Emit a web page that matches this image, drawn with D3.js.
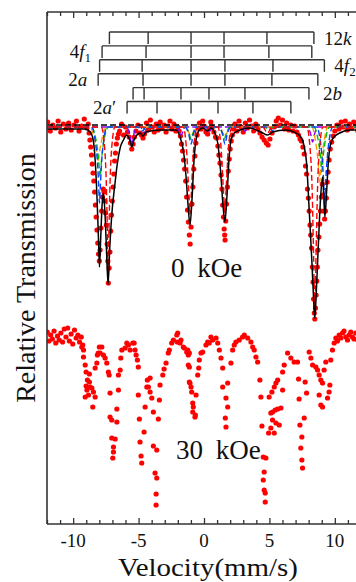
<!DOCTYPE html>
<html><head><meta charset="utf-8">
<script src="https://cdn.jsdelivr.net/npm/d3@7/dist/d3.min.js"></script>
<style>
body{margin:0;background:#fff}
svg{display:block}
</style></head>
<body><svg id="c" width="356" height="582"></svg>
<script>
// ---------------- DATA ----------------
const xTickLabels = [-10, -5, 0, 5, 10];
const stickLabels = ["12k", "4f1", "4f2", "2a", "2b", "2a′"];
// line positions (mm/s) of each sextet in the stick diagram
const stickRows = [
  [-7.23, -4.27, -0.99, 1.53, 4.81, 8.40],
  [-7.79, -4.43, -0.99, 1.53, 4.96, 8.24],
  [-7.98, -4.73, -0.99, 1.60, 5.27, 9.20],
  [-8.09, -4.66, -0.99, 1.60, 5.19, 8.70],
  [-5.42, -4.58, -1.76, 0.38, 3.13, 8.02],
  [-5.88, -3.59, -0.99, 1.07, 3.74, 6.64]
];
const fieldLabels = ["0 kOe", "30 kOe"];
const offset30 = -20.9; // vertical shift of the 30 kOe spectrum

// 0 kOe measured spectrum [velocity, relative transmission %]
const spectrum0 = [
[-11.95,100.5],[-11.75,99.6],[-11.55,100.2],[-11.35,99.9],[-11.15,100.6],[-10.95,99.5],[-10.75,100.3],[-10.55,99.8],[-10.35,100.4],[-10.15,99.7],[-9.95,100.2],[-9.75,100.6],[-9.55,99.6],[-9.35,100.1],[-9.15,100.8],[-8.95,99.9],[-8.85,100.3],
[-8.78,99.4],[-8.72,98.7],[-8.66,98.0],[-8.60,97.2],[-8.54,96.3],[-8.48,95.4],[-8.42,94.6],[-8.36,93.5],[-8.30,92.2],[-8.24,91.0],[-8.18,89.7],[-8.12,88.4],[-8.06,87.3],[-8.00,86.6],[-7.94,87.7],[-7.88,89.9],[-7.82,91.6],[-7.76,93.0],[-7.70,93.8],[-7.64,93.5],[-7.58,92.6],[-7.52,91.4],[-7.46,90.2],[-7.40,88.3],[-7.35,86.6],[-7.31,84.4],[-7.25,85.9],[-7.19,87.5],[-7.13,89.6],[-7.07,91.2],[-7.01,92.6],[-6.95,94.0],[-6.89,95.3],[-6.83,96.6],[-6.77,97.4],[-6.70,98.3],[-6.62,98.9],[-6.54,99.3],
[-6.45,99.6],[-6.30,100.3],[-6.15,99.2],[-6.00,100.0],[-5.85,99.5],[-5.72,99.0],[-5.62,98.4],[-5.52,97.8],[-5.42,98.3],[-5.32,99.0],[-5.20,99.6],[-5.05,100.2],[-4.90,99.4],[-4.78,99.2],[-4.66,98.9],[-4.55,99.3],[-4.40,100.4],[-4.25,99.8],[-4.10,100.7],[-3.95,100.0],[-3.80,99.5],[-3.65,100.3],[-3.50,99.7],[-3.35,100.5],[-3.20,99.9],[-3.05,100.2],[-2.90,99.5],[-2.75,100.1],[-2.60,100.6],[-2.45,99.8],[-2.30,100.3],[-2.15,99.6],[-2.00,100.0],
[-1.90,99.6],[-1.80,99.1],[-1.72,98.3],[-1.64,97.6],[-1.56,96.7],[-1.48,95.8],[-1.40,94.6],[-1.33,93.0],[-1.26,91.7],[-1.19,90.5],[-1.12,89.2],[-1.06,88.3],[-0.99,90.0],[-0.92,92.3],[-0.85,94.0],[-0.78,95.8],[-0.70,97.1],[-0.62,98.4],[-0.53,99.2],[-0.44,99.9],
[-0.35,100.4],[-0.22,99.8],[-0.10,100.6],[0.02,100.1],[0.15,99.5],[0.28,99.3],[0.40,99.8],[0.52,100.5],[0.64,100.0],[0.76,99.5],[0.88,99.0],
[0.98,98.9],[1.06,98.1],[1.14,97.2],[1.22,96.4],[1.30,95.2],[1.37,93.8],[1.43,92.2],[1.49,91.0],[1.54,89.8],[1.58,89.2],[1.61,88.7],[1.66,90.6],[1.72,92.3],[1.79,94.0],[1.86,95.6],[1.93,96.8],[2.00,97.8],[2.08,98.6],[2.16,99.2],[2.26,99.8],
[2.36,100.3],[2.52,99.6],[2.68,100.6],[2.84,100.0],[3.00,99.5],[3.16,100.4],[3.32,99.9],[3.48,100.7],[3.64,100.1],[3.80,99.6],[3.96,100.3],[4.12,99.8],[4.28,99.4],[4.44,99.0],[4.60,98.7],[4.76,98.4],[4.90,98.2],[5.04,98.8],[5.20,99.4],[5.36,100.0],[5.52,100.6],[5.68,100.9],[5.84,100.2],[6.00,100.7],[6.16,99.8],[6.32,100.4],[6.48,99.7],[6.64,100.2],[6.80,99.6],[6.96,100.1],[7.10,99.5],[7.22,99.2],[7.34,98.8],
[7.45,98.6],[7.56,98.0],[7.66,97.3],[7.76,96.1],[7.84,95.3],[7.91,93.8],[7.98,92.9],[8.04,91.6],[8.10,90.2],[8.16,89.2],[8.22,87.9],[8.28,86.0],[8.33,84.5],[8.38,82.8],[8.43,81.4],[8.47,80.8],[8.52,81.9],[8.57,83.2],[8.62,84.6],[8.66,86.0],[8.71,87.7],[8.78,89.0],[8.84,90.3],[8.90,91.6],[8.97,93.0],[9.04,94.3],[9.10,93.2],[9.16,91.6],[9.22,90.8],[9.28,91.6],[9.35,92.9],[9.42,94.5],[9.49,95.5],[9.56,96.7],[9.65,97.8],[9.76,98.5],[9.88,99.1],
[10.00,99.6],[10.16,100.2],[10.32,99.8],[10.48,100.5],[10.64,100.0],[10.80,100.6],[10.96,99.7],[11.12,100.3],[11.28,99.9],[11.44,100.5],[11.60,100.1],[11.76,99.6],[11.92,100.2]
];

// 0 kOe total fit (solid black)
const fit0 = [
[-12,99.8],[-9.08,99.8],[-8.70,99.5],[-8.47,98.7],[-8.32,96.7],[-8.17,92.7],[-8.05,88.2],[-7.99,86.0],[-7.90,88.7],[-7.79,92.2],[-7.69,93.4],[-7.56,91.2],[-7.44,87.2],[-7.33,84.3],[-7.21,87.7],[-7.05,91.2],[-6.79,94.5],[-6.64,96.2],[-6.41,97.9],[-6.16,98.7],[-5.90,99.2],[-5.65,98.6],[-5.52,98.0],[-5.38,98.6],[-5.13,99.2],[-4.89,99.4],[-4.66,99.1],[-4.43,99.5],[-3.36,99.7],[-2.14,99.7],[-1.76,98.7],[-1.53,97.2],[-1.37,95.0],[-1.22,92.2],[-1.07,90.2],[-0.92,92.7],[-0.76,96.7],[-0.61,98.7],[-0.36,99.7],[-0.10,99.9],[0.28,99.6],[0.53,99.9],[0.79,99.5],[1.05,98.4],[1.26,95.7],[1.45,92.2],[1.60,90.5],[1.76,93.2],[1.91,96.7],[2.06,98.7],[2.31,99.4],[2.75,99.7],[3.51,99.9],[4.48,99.4],[4.86,99.2],[5.24,99.5],[6.26,99.7],[6.87,99.5],[7.40,99.0],[7.66,98.0],[7.84,96.4],[8.04,91.7],[8.24,86.7],[8.37,83.0],[8.47,80.9],[8.59,83.7],[8.73,87.9],[8.91,92.9],[9.06,95.0],[9.15,93.2],[9.24,91.0],[9.37,93.5],[9.49,96.2],[9.62,97.9],[9.87,98.9],[10.38,99.4],[11.15,99.7],[12,99.7]
];

// 0 kOe sub-spectra (dashed)
const comp12k = [[-12,100],[-7.85,100],[-7.6,98.0],[-7.45,93.5],[-7.38,89],[-7.33,84.6],[-7.27,89],[-7.2,93.5],[-7.05,98.0],[-6.8,100],[-4.6,100],[-4.27,99.5],[-3.95,100],[-1.6,100],[-1.35,98.0],[-1.2,94.5],[-1.12,92.5],[-1.07,91.3],[-1.0,92.5],[-0.93,94.5],[-0.78,98.0],[-0.5,100],[1.05,100],[1.3,98.0],[1.45,94.5],[1.53,92.5],[1.58,91.3],[1.64,92.5],[1.72,94.5],[1.87,98.0],[2.15,100],[4.5,100],[4.85,99.4],[5.2,100],[7.85,100],[8.1,98.0],[8.27,93.5],[8.38,87],[8.47,81.3],[8.56,87],[8.67,93.5],[8.84,98.0],[9.1,100],[12,100]];
const comp4f2 = [[-12,100],[-8.6,100],[-8.3,98.5],[-8.12,96],[-8.04,93.8],[-7.99,92.4],[-7.93,93.8],[-7.85,96],[-7.68,98.5],[-7.4,100],[-5.05,100],[-4.73,99.6],[-4.4,100],[-1.45,100],[-1.15,99.2],[-0.99,98.3],[-0.83,99.2],[-0.55,100],[1.15,100],[1.44,99.2],[1.60,98.3],[1.76,99.2],[2.05,100],[4.95,100],[5.27,99.6],[5.6,100],[8.6,100],[8.9,98.5],[9.08,96],[9.17,93.8],[9.22,92.0],[9.28,93.8],[9.37,96],[9.55,98.5],[9.85,100],[12,100]];
const comp4f1 = [[-12,100],[-8.6,100],[-8.3,99.0],[-8.1,97.3],[-8.0,95.8],[-7.95,95.0],[-7.89,95.8],[-7.79,97.3],[-7.6,99.0],[-7.3,100],[-4.75,100],[-4.43,99.7],[-4.1,100],[-1.45,100],[-1.15,99.4],[-0.99,98.8],[-0.83,99.4],[-0.55,100],[1.1,100],[1.39,99.4],[1.55,98.8],[1.71,99.4],[2.0,100],[4.63,100],[4.96,99.7],[5.3,100],[8.4,100],[8.68,99.0],[8.88,97.3],[8.96,96.2],[9.0,95.5],[9.05,96.2],[9.13,97.3],[9.32,99.0],[9.6,100],[12,100]];
const comp2a = [[-12,100],[-8.7,100],[-8.42,99.0],[-8.22,97.8],[-8.13,97.0],[-8.09,96.5],[-8.04,97.0],[-7.95,97.8],[-7.76,99.0],[-7.45,100],[-1.4,100],[-0.99,99.1],[-0.6,100],[1.2,100],[1.6,99.1],[2.0,100],[8.25,100],[8.52,98.6],[8.7,96.8],[8.8,95.3],[8.85,94.5],[8.9,95.3],[9.0,96.8],[9.18,98.6],[9.45,100],[12,100]];
const comp2b = [[-12,100],[-5.95,100],[-5.7,99.4],[-5.52,98.2],[-5.34,99.4],[-5.05,100],[-4.85,100],[-4.58,99.4],[-4.3,100],[-2.1,100],[-1.76,99.2],[-1.42,100],[0.05,100],[0.38,99.6],[0.7,100],[2.8,100],[3.13,99.6],[3.45,100],[7.9,100],[8.15,99.3],[8.3,98.5],[8.45,99.3],[8.7,100],[12,100]];
const compBase = [[-12,100.2],[12,100.2]];

// 30 kOe measured spectrum [velocity, relative transmission %]
const spectrum30 = [
[-11.98,100.4],[-11.85,99.5],[-11.72,100.1],[-11.59,99.7],[-11.46,100.5],[-11.33,99.3],[-11.20,100.0],[-11.07,99.6],[-10.94,100.3],[-10.81,99.4],[-10.68,100.7],[-10.55,99.9],[-10.42,100.8],[-10.29,99.5],[-10.16,100.2],[-10.03,99.2],[-9.90,100.6],[-9.77,99.8],[-9.64,100.1],[-9.51,99.4],[-9.38,99.9],[-9.27,99.1],
[-9.34,98.9],[-9.21,98.6],[-9.21,97.9],[-9.08,97.1],[-9.01,96.4],[-9.01,95.0],[-8.95,94.6],[-9.08,93.9],[-8.91,95.6],[-8.83,94.1],[-8.76,96.2],[-8.76,95.4],[-8.70,94.9],[-8.57,94.8],[-8.50,92.9],[-8.45,94.4],[-8.32,93.9],[-8.32,96.8],[-8.19,97.3],[-8.15,98.1],[-8.08,98.3],[-8.00,98.9],[-7.94,98.3],[-7.81,98.9],[-7.69,98.1],[-7.56,97.8],[-7.43,97.3],[-7.31,96.4],[-7.25,96.1],[-7.18,94.3],[-7.18,91.9],[-7.05,91.6],[-7.05,89.8],[-6.79,89.7],[-6.92,88.9],[-6.92,88.4],[-6.97,87.8],[-6.66,91.4],[-6.66,92.7],[-6.54,94.6],[-6.54,96.1],[-6.41,96.6],[-6.36,97.8],[-6.28,98.6],[-6.03,98.8],[-5.90,99.3],[-5.78,99.1],[-5.65,98.6],[-5.44,99.3],[-5.34,99.3],[-5.27,98.6],[-5.19,98.1],[-5.09,97.6],[-5.02,96.9],[-5.02,94.1],[-4.94,91.7],[-4.89,89.4],[-4.81,88.0],[-4.76,87.3],[-4.58,90.4],[-4.50,92.9],[-4.37,94.9],[-4.33,95.6],[-4.12,95.8],[-4.25,94.9],[-4.12,94.4],[-3.99,93.8],[-3.87,92.4],[-3.87,89.0],[-3.61,88.6],[-3.74,86.3],[-3.61,85.8],[-3.66,84.2],[-3.66,83.1],[-3.49,91.7],[-3.41,93.6],[-3.36,95.1],[-3.15,96.1],[-3.05,96.7],[-2.90,97.3],[-2.73,98.3],[-2.65,98.6],[-2.47,99.3],[-2.34,99.6],[-2.08,100.1],[-2.04,99.4],[-2.01,100.3],[-1.83,99.3],[-1.76,99.6],[-1.58,98.9],[-1.50,98.8],[-1.32,98.4],[-1.24,98.6],[-1.20,98.1],[-1.12,98.3],[-1.20,97.1],[-1.12,96.9],[-1.07,95.3],[-1.12,95.4],[-0.99,94.9],[-0.94,94.4],[-0.86,93.3],[-0.82,92.9],[-0.86,92.4],[-0.69,91.9],[-0.66,92.1],[-0.61,94.1],[-0.48,96.1],[-0.40,96.8],[-0.36,97.6],[-0.23,98.3],[-0.10,98.4],[0.15,99.1],[0.28,99.4],[0.40,99.3],[0.53,99.9],[0.66,99.6],[0.92,99.8],[1.05,99.3],[1.17,98.6],[1.30,97.8],[1.43,96.8],[1.43,94.9],[1.81,95.3],[1.68,93.8],[1.81,92.9],[1.63,91.8],[1.68,90.9],[2.06,97.3],[2.19,98.6],[2.31,99.1],[2.44,99.4],[2.69,99.6],[2.95,99.9],[3.08,100.1],[3.34,99.8],[3.59,99.4],[3.72,98.9],[3.84,98.6],[3.97,97.9],[4.10,97.4],[4.27,95.6],[4.35,93.9],[4.43,91.0],[4.53,87.9],[4.73,87.8],[4.60,86.4],[4.53,85.6],[4.60,84.6],[4.68,84.3],[4.68,83.4],[4.94,90.3],[5.11,90.8],[5.37,90.3],[4.98,93.9],[5.19,94.4],[5.37,94.9],[5.50,95.3],[5.63,95.6],[5.11,92.3],[5.24,92.4],[5.44,92.6],[5.63,92.7],[5.88,92.8],[5.24,91.6],[5.50,91.3],[5.75,91.1],[6.01,94.6],[6.01,96.4],[6.13,97.1],[6.39,98.3],[6.64,97.8],[6.89,97.4],[7.15,97.4],[7.23,95.7],[7.27,93.7],[7.33,91.1],[7.48,89.9],[7.40,88.8],[7.48,87.6],[7.53,86.8],[7.73,95.4],[7.84,94.3],[7.66,91.8],[8.04,98.4],[8.17,97.8],[8.30,97.1],[8.55,96.9],[8.68,96.6],[8.80,96.1],[8.93,95.6],[9.06,95.3],[9.18,96.6],[9.31,97.4],[8.80,94.1],[8.93,93.1],[9.06,92.9],[9.44,93.8],[9.56,94.4],[9.62,95.1],[9.69,97.6],[9.82,98.6],[9.95,99.3],[10.08,99.8],[10.20,99.5],[10.33,100.1],[10.46,99.8],[10.59,100.3],[10.70,100.5],[10.84,99.9],[10.97,99.6],[11.09,100.1],[11.22,100.4],[11.35,99.9],[11.47,99.7],[11.60,100.3],[11.75,99.6],[11.90,100.2]
];

// ---------------- CHART ----------------
(function () {
const FONT = "Liberation Serif";
const INK = "#111";
const svg = d3.select("#c");
const W = 356, H = 582;
const pL = 47, pR = 361, pT = 12, pB = 524;
const x = d3.scaleLinear().domain([-12, 12]).range([pL, pR]);
const y = d3.scaleLinear().domain([60.3, 111.5]).range([pB, pT]);
const txt = (sel) => sel.append("text").attr("font-family", FONT).attr("fill", INK);

svg.append("rect").attr("width", W).attr("height", H).attr("fill", "#fff");
svg.append("defs").append("clipPath").attr("id", "clip")
  .append("rect").attr("x", pL).attr("y", pT).attr("width", pR - pL).attr("height", pB - pT);

const plot = svg.append("g").attr("clip-path", "url(#clip)");

// stick diagram
const rowY0 = 32, rowStep = 13.9, tickLen = 12;
const sticks = svg.append("g").attr("stroke", "#333").attr("stroke-width", 1.4).attr("fill", "none");
stickRows.forEach((row, i) => {
  const yy = rowY0 + i * rowStep;
  const ext = d3.extent(row);
  sticks.append("line").attr("x1", x(ext[0])).attr("x2", x(ext[1])).attr("y1", yy).attr("y2", yy);
  row.forEach(v => sticks.append("line").attr("x1", x(v)).attr("x2", x(v)).attr("y1", yy).attr("y2", yy + tickLen));
  const onRight = i % 2 === 0;
  const t = txt(svg)
    .attr("x", onRight ? x(ext[1]) + (i === 4 ? 14 : 10) : x(ext[0]) - 11)
    .attr("y", yy + 12.5)
    .attr("font-size", 19)
    .attr("text-anchor", onRight ? "start" : "end");
  let prevLetter = false;
  for (const ch of stickLabels[i]) {
    const isLetter = /[a-z]/i.test(ch);
    const ts = t.append("tspan").text(ch);
    if (isLetter) ts.attr("font-style", "italic");
    else if (/\d/.test(ch) && prevLetter) ts.attr("font-size", 13).attr("dy", 4);
    prevLetter = isLetter;
  }
});

// spectra points
const dotR = 2.6;
plot.append("g").selectAll("circle").data(spectrum0).join("circle")
  .attr("cx", d => x(d[0])).attr("cy", d => y(d[1])).attr("r", dotR).attr("fill", "#ff0000");
plot.append("g").selectAll("circle").data(spectrum30).join("circle")
  .attr("cx", d => x(d[0])).attr("cy", d => y(d[1] + offset30)).attr("r", dotR).attr("fill", "#ff0000");

// dashed sub-spectra
const line = d3.line().x(d => x(d[0])).y(d => y(d[1])).curve(d3.curveMonotoneX);
const comps = [
  [compBase, "#000000"],
  [comp2b, "#8a00ff"],
  [comp2a, "#ff9900"],
  [comp4f1, "#00c000"],
  [comp4f2, "#0044ff"],
  [comp12k, "#ff0000"]
];
comps.forEach(([data, col]) => {
  plot.append("path").attr("d", line(data)).attr("fill", "none")
    .attr("stroke", col).attr("stroke-width", 1.4).attr("stroke-dasharray", "6,3");
});

// total fit
plot.append("path").attr("d", line(fit0)).attr("fill", "none")
  .attr("stroke", "#000").attr("stroke-width", 1.5);

// axes frame
const frame = svg.append("g").attr("stroke", "#333").attr("stroke-width", 1.6).attr("fill", "none");
frame.append("line").attr("x1", pL).attr("x2", pL).attr("y1", pT).attr("y2", pB);
frame.append("line").attr("x1", pL).attr("x2", pR).attr("y1", pB).attr("y2", pB);
frame.append("line").attr("x1", pL).attr("x2", pR).attr("y1", pT).attr("y2", pT);

const tickVals = d3.range(-12, 13, 1);
const gb = svg.append("g").attr("transform", `translate(0,${pB})`)
  .call(d3.axisBottom(x).tickValues(tickVals).tickSizeOuter(0).tickFormat(""));
const gt = svg.append("g").attr("transform", `translate(0,${pT})`)
  .call(d3.axisTop(x).tickValues(tickVals).tickSizeOuter(0).tickFormat(""));
gb.select(".domain").remove();
gt.select(".domain").remove();
gb.selectAll(".tick text").remove();
gt.selectAll(".tick text").remove();
gb.selectAll(".tick line").attr("stroke", "#333").attr("stroke-width", 1.3).attr("y2", d => d % 5 === 0 ? -6 : -4);
gt.selectAll(".tick line").attr("stroke", "#333").attr("stroke-width", 1.3).attr("y2", d => d % 5 === 0 ? 6 : 4);

// tick labels
xTickLabels.forEach(d => {
  txt(svg).attr("x", x(d)).attr("y", 547).attr("text-anchor", "middle").attr("font-size", 19).text(d);
});

// axis titles
txt(svg).attr("x", 208).attr("y", 576).attr("text-anchor", "middle")
  .attr("font-size", 26).attr("textLength", 180).attr("lengthAdjust", "spacingAndGlyphs")
  .text("Velocity(mm/s)");
txt(svg).attr("transform", "translate(35,278) rotate(-90)").attr("text-anchor", "middle")
  .attr("font-size", 28).text("Relative Transmission");

// field labels
function fieldLabel(str, x0, yb) {
  const parts = str.split(" ");
  const t = txt(svg).attr("x", x0).attr("y", yb).attr("font-size", 27);
  t.append("tspan").text(parts[0]);
  t.append("tspan").attr("dx", 6).text(" " + parts[1]);
}
fieldLabel(fieldLabels[0], 171, 277);
fieldLabel(fieldLabels[1], 176, 459);
})();
</script></body></html>
